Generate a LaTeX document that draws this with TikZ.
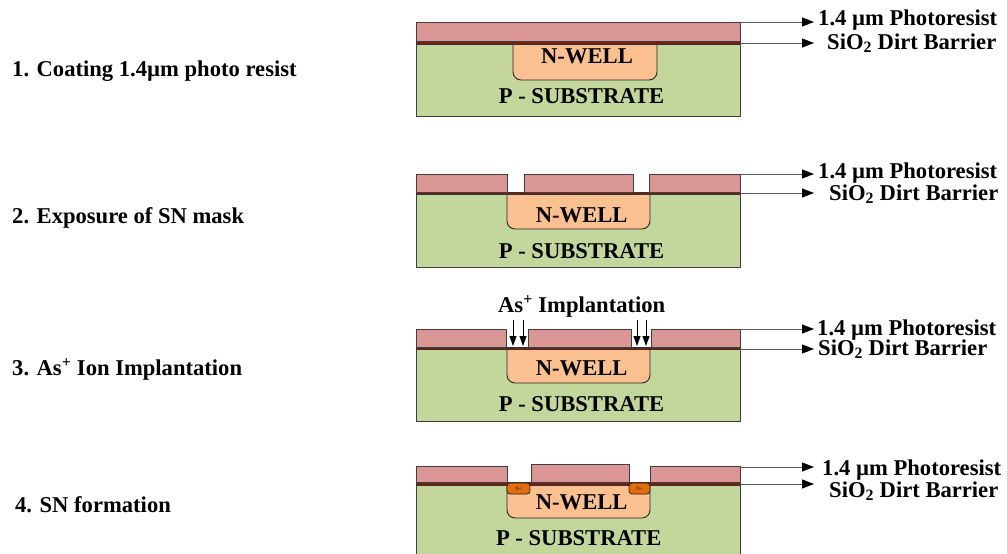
\documentclass[tikz,border=0pt]{standalone}
\usepackage{fontspec}
\setmainfont{Liberation Serif}[BoldFont={Liberation Serif Bold}]
\usetikzlibrary{arrows.meta}

\definecolor{resistfill}{HTML}{D99694}
\definecolor{substfill}{HTML}{C3D69B}
\definecolor{wellfill}{HTML}{FAC090}
\definecolor{oxidefill}{HTML}{7A1E12}
\definecolor{nplusfill}{HTML}{E46C0A}
\definecolor{edgecol}{HTML}{3F3F3F}
\definecolor{leadcol}{HTML}{595959}

\tikzset{
  layer/.style={draw=edgecol, line width=0.9pt},
  resistbox/.style={layer, fill=resistfill},
  substbox/.style={layer, fill=substfill},
  oxidebox/.style={draw=black!80, line width=0.5pt, fill=oxidefill},
  wellbox/.style={draw=black!85, line width=0.9pt, fill=wellfill, rounded corners=8pt},
  nplusbox/.style={draw=black!85, line width=0.8pt, fill=nplusfill, rounded corners=3pt},
  lbl/.style={font=\bfseries\fontsize{22.6}{26}\selectfont, inner sep=0pt, anchor=base west},
  inlbl/.style={font=\bfseries\fontsize{22.6}{26}\selectfont, inner sep=0pt, anchor=base},
  tinylbl/.style={font=\bfseries\fontsize{5}{6}\selectfont, inner sep=0pt, text=black!80},
  leadline/.style={draw=leadcol, line width=0.9pt, -{Stealth[length=12pt,width=9pt,inset=0pt,color=black]}},
  implant/.style={draw=black, line width=0.8pt, -{Stealth[length=10pt,width=7pt,inset=0pt]}},
}

\begin{document}
\begin{tikzpicture}[x=1pt,y=-1pt]
\clip (0,0) rectangle (1007,554);
\fill[white] (0,0) rectangle (1007,554);

% ---------- step labels ----------
\node[lbl] (s1) at (12,76)  {1. Coating 1.4µm photo resist};
\node[lbl] (s2) at (12,223) {2. Exposure of SN mask};
\node[lbl] (s3) at (12,375) {3. As\textsuperscript{+} Ion Implantation};
\node[lbl] (s4) at (15,512) {4. SN formation};

% ---------- stage 1: coated wafer ----------
\draw[substbox] (416,43) rectangle (740,116);
\draw[wellbox] (513,43) -- (513,80) -- (657,80) -- (657,43);
\draw[oxidebox] (416,41.5) rectangle (740,44);
\draw[resistbox] (416,22) rectangle (740,41.5);
\node[inlbl] (w1) at (587,63) {N-WELL};
\node[inlbl] (p1) at (581.5,103) {P - SUBSTRATE};
\coordinate (r1a) at (740,22);  \coordinate (r1b) at (740,43);
\coordinate (t1a) at (814,22);  \coordinate (t1b) at (814,43);
\draw[leadline] (r1a) -- (t1a);
\draw[leadline] (r1b) -- (t1b);
\node[lbl] (pr1) at (818,25) {1.4 µm Photoresist};
\node[lbl] (ox1) at (827,49) {SiO\textsubscript{2} Dirt Barrier};

% ---------- stage 2: exposed SN mask ----------
\draw[substbox] (416,194) rectangle (740,267);
\draw[wellbox] (507,194) -- (507,229) -- (650,229) -- (650,194);
\draw[oxidebox] (416,192) rectangle (740,194.5);
\draw[resistbox] (416,174) rectangle (507,192);
\draw[resistbox] (524,174) rectangle (633,192);
\draw[resistbox] (649,174) rectangle (740,192);
\node[inlbl] (w2) at (581.7,222) {N-WELL};
\node[inlbl] (p2) at (581.5,258) {P - SUBSTRATE};
\coordinate (r2a) at (740,174); \coordinate (r2b) at (740,193);
\coordinate (t2a) at (814,174); \coordinate (t2b) at (814,193);
\draw[leadline] (r2a) -- (t2a);
\draw[leadline] (r2b) -- (t2b);
\node[lbl] (pr2) at (818,178) {1.4 µm Photoresist};
\node[lbl] (ox2) at (829,200) {SiO\textsubscript{2} Dirt Barrier};

% ---------- stage 3: arsenic implantation ----------
\draw[substbox] (416,349) rectangle (740,421);
\draw[wellbox] (507,349) -- (507,383) -- (650,383) -- (650,349);
\draw[oxidebox] (416,347) rectangle (740,349.5);
\draw[resistbox] (416,329) rectangle (506,347);
\draw[resistbox] (528,329) rectangle (631,347);
\draw[resistbox] (651,329) rectangle (740,347);
\node[inlbl] (w3) at (581.7,375) {N-WELL};
\node[inlbl] (p3) at (581.5,411) {P - SUBSTRATE};
\node[inlbl] (imp) at (581.7,312) {As\textsuperscript{+} Implantation};
\foreach \x/\n in {513/a, 523/b, 637/c, 646/d} {
  \coordinate (i\n s) at (\x,320);
  \coordinate (i\n e) at (\x,346);
  \draw[implant] (i\n s) -- (i\n e);
}
\coordinate (r3a) at (740,329); \coordinate (r3b) at (740,349);
\coordinate (t3a) at (814,329); \coordinate (t3b) at (814,349);
\draw[leadline] (r3a) -- (t3a);
\draw[leadline] (r3b) -- (t3b);
\node[lbl] (pr3) at (817,335) {1.4 µm Photoresist};
\node[lbl] (ox3) at (818,355.5) {SiO\textsubscript{2} Dirt Barrier};

% ---------- stage 4: SN regions formed ----------
\draw[substbox] (416,485) rectangle (740,570);
\draw[wellbox] (507,485) -- (507,518) -- (650,518) -- (650,485);
\draw[oxidebox] (416,482.7) rectangle (740,485);
\draw[resistbox] (416,466) rectangle (507,482.7);
\draw[resistbox] (531,464.5) rectangle (629,482.7);
\draw[resistbox] (650,466) rectangle (740,482.7);
\draw[nplusbox] (507,483) -- (507,494) -- (530,494) -- (530,483) -- cycle;
\draw[nplusbox] (629,483) -- (629,494) -- (650,494) -- (650,483) -- cycle;
\node[tinylbl] (n1) at (518.5,488.5) {N+};
\node[tinylbl] (n2) at (639.5,488.5) {N+};
\node[inlbl] (w4) at (581.7,509.5) {N-WELL};
\node[inlbl] (p4) at (578.7,545) {P - SUBSTRATE};
\coordinate (r4a) at (740,467); \coordinate (r4b) at (740,484);
\coordinate (t4a) at (814,467); \coordinate (t4b) at (814,484);
\draw[leadline] (r4a) -- (t4a);
\draw[leadline] (r4b) -- (t4b);
\node[lbl] (pr4) at (822,475) {1.4 µm Photoresist};
\node[lbl] (ox4) at (829,497) {SiO\textsubscript{2} Dirt Barrier};
\end{tikzpicture}
\end{document}
